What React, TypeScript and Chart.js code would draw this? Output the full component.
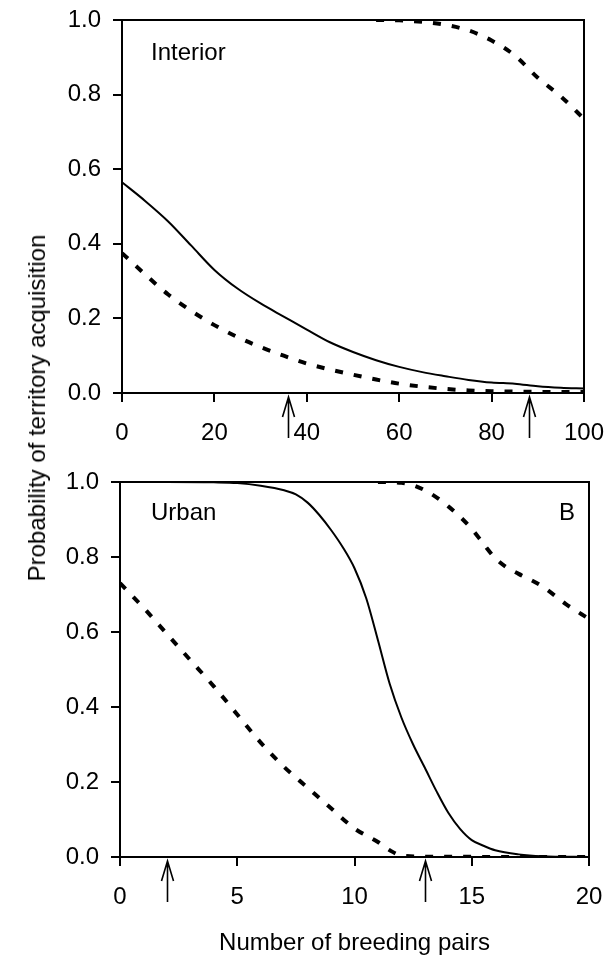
import React, { useEffect, useRef } from 'react';
import { Chart, registerables } from 'chart.js';

Chart.register(...registerables);

const FONT = "'Liberation Sans', Arial, Helvetica, sans-serif";

// ---------- Interior panel (top) ----------
const interiorTicksX = [0, 20, 40, 60, 80, 100];
const interiorSolidX = [0, 5, 10, 15, 20, 25, 30, 35, 40, 45, 50, 55, 60, 65, 70, 75, 80, 85, 90, 95, 100];
const interiorSolidY = [0.565, 0.515, 0.46, 0.395, 0.33, 0.28, 0.24, 0.205, 0.17, 0.136, 0.11, 0.088, 0.07, 0.056, 0.045, 0.035, 0.028, 0.025, 0.018, 0.014, 0.012];
const interiorLowX = [0, 5, 10, 15, 20, 25, 30, 35, 40, 45, 50, 55, 60, 65, 70, 75, 80, 90, 100];
const interiorLowY = [0.375, 0.318, 0.264, 0.22, 0.182, 0.15, 0.123, 0.1, 0.079, 0.063, 0.049, 0.036, 0.025, 0.017, 0.011, 0.007, 0.005, 0.003, 0.003];
const interiorHighX = [55, 60, 65, 70, 75, 80, 85, 90, 95, 100];
const interiorHighY = [1.0, 0.999, 0.995, 0.987, 0.972, 0.945, 0.905, 0.845, 0.795, 0.735];
const interiorArrows = [36, 88];

// ---------- Urban panel (bottom) ----------
const urbanTicksX = [0, 5, 10, 15, 20];
const urbanSolidX = [0, 2, 4, 5, 6, 7, 7.5, 8, 8.5, 9, 9.5, 10, 10.5, 11, 11.5, 12, 12.5, 13, 13.5, 14, 14.5, 15, 15.5, 16, 17, 18, 20];
const urbanSolidY = [1.0, 1.0, 0.999, 0.997, 0.99, 0.978, 0.967, 0.945, 0.912, 0.872, 0.826, 0.77, 0.69, 0.578, 0.462, 0.372, 0.3, 0.238, 0.175, 0.118, 0.075, 0.045, 0.03, 0.018, 0.007, 0.002, 0.0];
const urbanLowX = [0, 1, 2, 3, 4, 5, 6, 7, 8, 9, 10, 11, 11.5, 12, 13, 20];
const urbanLowY = [0.73, 0.665, 0.595, 0.525, 0.455, 0.38, 0.305, 0.24, 0.185, 0.13, 0.076, 0.04, 0.018, 0.004, 0.001, 0.0];
const urbanHighX = [11, 12, 13, 14, 15, 15.5, 16, 16.5, 17, 18, 19, 20];
const urbanHighY = [1.0, 0.998, 0.978, 0.935, 0.875, 0.835, 0.797, 0.772, 0.755, 0.722, 0.675, 0.635];
const urbanArrows = [2, 13];

const yTicks = [0, 0.2, 0.4, 0.6, 0.8, 1.0];

const pts = (xs: number[], ys: number[]) => xs.map((x, i) => ({ x, y: ys[i] }));

const solidStyle = { borderColor: '#000', borderWidth: 2, pointRadius: 0, fill: false, cubicInterpolationMode: 'monotone' as const };
const dashStyle = { borderColor: '#000', borderWidth: 4, borderDash: [8, 11], borderCapStyle: 'butt' as const, pointRadius: 0, fill: false, cubicInterpolationMode: 'monotone' as const };

type PanelSpec = {
  xMax: number;
  xTicks: number[];
  series: { x: number[]; y: number[]; dashed: boolean }[];
  arrows: number[];
  yWidth: number;
  xHeight: number;
  padding: { top: number; right: number; left: number; bottom: number };
  labels: { text: string; dx: number; dy: number; align: 'left' | 'right' }[];
  xTitle?: string;
};

function makePlugins(spec: PanelSpec) {
  return [
    {
      id: 'frameArrowsText',
      afterDraw(chart: any) {
        const { ctx, chartArea } = chart;
        const { left, right, top, bottom } = chartArea;
        ctx.save();
        ctx.strokeStyle = '#000';
        ctx.lineWidth = 2;
        ctx.beginPath();
        ctx.moveTo(left, top);
        ctx.lineTo(right, top);
        ctx.lineTo(right, bottom);
        ctx.stroke();
        // arrows
        const xs = chart.scales.x;
        ctx.lineWidth = 1.6;
        spec.arrows.forEach((v) => {
          const px = Math.round(xs.getPixelForValue(v)) + 0.5;
          const tip = bottom + 4;
          ctx.beginPath();
          ctx.moveTo(px, tip);
          ctx.lineTo(px, tip + 41);
          ctx.moveTo(px - 6, tip + 20);
          ctx.lineTo(px, tip);
          ctx.lineTo(px + 6, tip + 20);
          ctx.stroke();
        });
        // labels
        ctx.fillStyle = '#000';
        ctx.font = `24px ${FONT}`;
        ctx.textBaseline = 'alphabetic';
        spec.labels.forEach((l) => {
          ctx.textAlign = l.align;
          const x = l.align === 'left' ? left + l.dx : right - l.dx;
          ctx.fillText(l.text, x, top + l.dy);
        });
        ctx.restore();
      },
    },
  ];
}

function makeConfig(spec: PanelSpec): any {
  return {
    type: 'line',
    data: {
      datasets: spec.series.map((s) => ({
        data: pts(s.x, s.y),
        ...(s.dashed ? dashStyle : solidStyle),
      })),
    },
    options: {
      animation: false,
      responsive: false,
      layout: { padding: spec.padding },
      plugins: { legend: { display: false }, tooltip: { enabled: false }, title: { display: false } },
      scales: {
        x: {
          type: 'linear',
          min: 0,
          max: spec.xMax,
          afterBuildTicks: (scale: any) => {
            scale.ticks = spec.xTicks.map((v) => ({ value: v }));
          },
          ticks: {
            color: '#000',
            font: { family: FONT, size: 24 },
            padding: 17,
            maxRotation: 0,
            autoSkip: false,
            callback: (v: number) => String(v),
          },
          grid: { display: true, drawOnChartArea: false, drawTicks: true, tickLength: 9, color: '#000', lineWidth: 2 },
          border: { display: true, color: '#000', width: 2 },
          title: spec.xTitle
            ? { display: true, text: spec.xTitle, color: '#000', font: { family: FONT, size: 24 }, padding: { top: 0, bottom: 1 } }
            : { display: false },
          afterFit: (scale: any) => {
            scale.height = spec.xHeight;
            scale.paddingLeft = 0;
            scale.paddingRight = 0;
          },
        },
        y: {
          type: 'linear',
          min: 0,
          max: 1,
          afterBuildTicks: (scale: any) => {
            scale.ticks = yTicks.map((v) => ({ value: v }));
          },
          ticks: {
            color: '#000',
            font: { family: FONT, size: 24 },
            padding: 12,
            callback: (v: number) => Number(v).toFixed(1),
          },
          grid: { display: true, drawOnChartArea: false, drawTicks: true, tickLength: 9, color: '#000', lineWidth: 2 },
          border: { display: true, color: '#000', width: 2 },
          afterFit: (scale: any) => {
            scale.width = spec.yWidth;
            scale.paddingTop = 0;
            scale.paddingBottom = 0;
          },
        },
      },
    },
    plugins: makePlugins(spec),
  };
}

const topSpec: PanelSpec = {
  xMax: 100,
  xTicks: interiorTicksX,
  series: [
    { x: interiorSolidX, y: interiorSolidY, dashed: false },
    { x: interiorLowX, y: interiorLowY, dashed: true },
    { x: interiorHighX, y: interiorHighY, dashed: true },
  ],
  arrows: interiorArrows,
  yWidth: 122,
  xHeight: 77,
  padding: { top: 20, right: 22, left: 0, bottom: 0 },
  labels: [{ text: 'Interior', dx: 29, dy: 40, align: 'left' }],
};

const bottomSpec: PanelSpec = {
  xMax: 20,
  xTicks: urbanTicksX,
  series: [
    { x: urbanSolidX, y: urbanSolidY, dashed: false },
    { x: urbanLowX, y: urbanLowY, dashed: true },
    { x: urbanHighX, y: urbanHighY, dashed: true },
  ],
  arrows: urbanArrows,
  yWidth: 120,
  xHeight: 102,
  padding: { top: 12, right: 17, left: 0, bottom: 0 },
  labels: [
    { text: 'Urban', dx: 31, dy: 38, align: 'left' },
    { text: 'B', dx: 14, dy: 38, align: 'right' },
  ],
  xTitle: 'Number of breeding pairs',
};

function Panel({ spec, top, height }: { spec: PanelSpec; top: number; height: number }) {
  const ref = useRef<HTMLCanvasElement | null>(null);
  useEffect(() => {
    if (!ref.current) return;
    const chart = new Chart(ref.current, makeConfig(spec));
    return () => chart.destroy();
  }, [spec]);
  return (
    <canvas
      ref={ref}
      width={606}
      height={height}
      style={{ position: 'absolute', left: 0, top, width: 606, height, display: 'block' }}
    />
  );
}

export default function App() {
  return (
    <div style={{ position: 'absolute', left: 0, top: 0, width: 606, height: 959, background: '#fff', overflow: 'hidden' }}>
      <Panel spec={topSpec} top={0} height={470} />
      <Panel spec={bottomSpec} top={470} height={489} />
      <div
        style={{
          position: 'absolute',
          left: 37,
          top: 408,
          transform: 'translate(-50%, -50%) rotate(-90deg)',
          whiteSpace: 'nowrap',
          fontFamily: FONT,
          fontSize: 24,
          color: '#000',
          lineHeight: 1,
        }}
      >
        Probability of territory acquisition
      </div>
    </div>
  );
}
